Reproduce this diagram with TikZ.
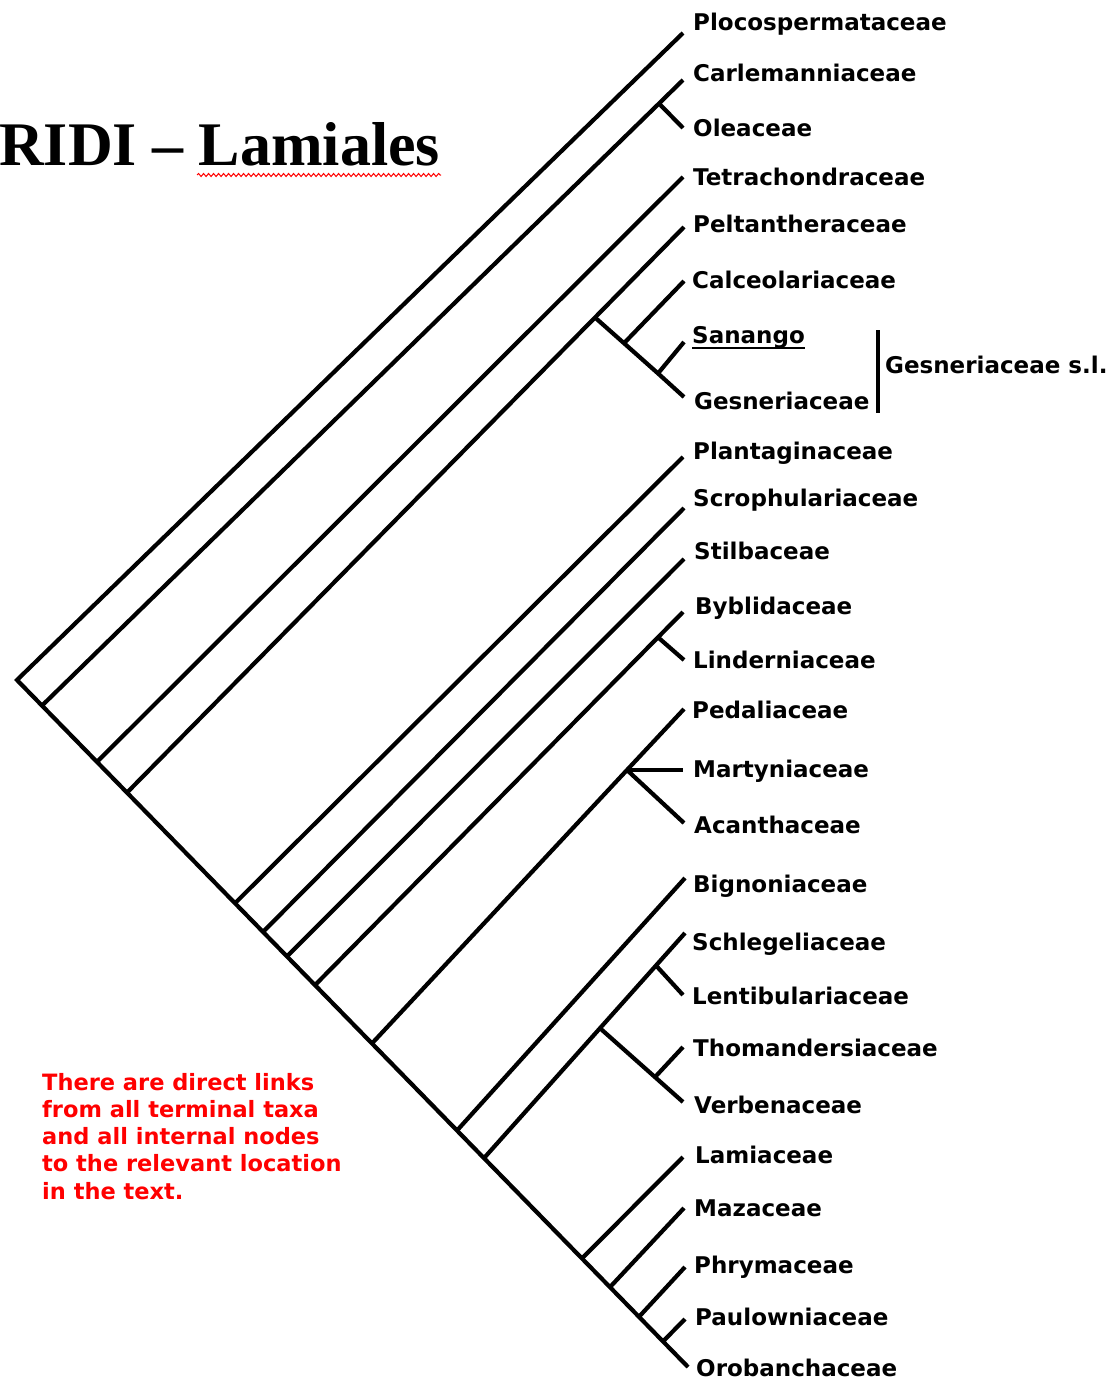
\documentclass[tikz,border=0pt]{standalone}
\usepackage{fontspec}
\newfontfamily\labfont{DejaVu Sans}
\newfontfamily\titlefont{Liberation Serif}
\usetikzlibrary{decorations.pathmorphing}
\begin{document}
\begin{tikzpicture}[x=1pt,y=-1pt,
  br/.style={line width=4.2pt, line cap=butt, line join=miter},
  taxon/.style={anchor=west, inner sep=0pt, font=\labfont\bfseries\fontsize{23}{27}\selectfont, text height=16.8pt, text depth=0pt},
  note/.style={anchor=base west, align=left, inner sep=0pt, text=red, font=\labfont\bfseries\fontsize{22.5}{27.25}\selectfont},
  wavy/.style={red, line width=1pt, decorate, decoration={snake, amplitude=1.5pt, segment length=5pt}}
]
\useasboundingbox (0,0) rectangle (1111,1381);

% spine
\coordinate (root) at (17,680);
\coordinate (end) at (688,1367);
\coordinate (s1) at (42,705.6);
\coordinate (s2) at (97,761.9);
\coordinate (s3) at (127,792.6);
\coordinate (s4) at (235,903.2);
\coordinate (s5) at (263,931.9);
\coordinate (s6) at (287,956.4);
\coordinate (s7) at (315,985.1);
\coordinate (s8) at (372,1043.4);
\coordinate (s9) at (457,1130.5);
\coordinate (s10) at (484,1158.1);
\coordinate (s11) at (582,1258.4);
\coordinate (s12) at (610,1287.1);
\coordinate (s13) at (639,1316.8);
\coordinate (s14) at (663,1341.4);

% tips and inner junctions
\coordinate (t-plo) at (683,33);
\coordinate (t-car) at (683,80);
\coordinate (j-ole) at (659,103.5);
\coordinate (t-ole) at (683,128);
\coordinate (t-tet) at (683,177);
\coordinate (t-pel) at (684,227);
\coordinate (j-cal0) at (595,317.5);
\coordinate (j-cal1) at (624,343.2);
\coordinate (j-cal2) at (658,373.4);
\coordinate (t-cal) at (684,281);
\coordinate (t-san) at (684,342);
\coordinate (t-ges) at (684,397);
\coordinate (t-pla) at (683,457);
\coordinate (t-scr) at (684,508);
\coordinate (t-sti) at (684,559);
\coordinate (t-byb) at (683,612);
\coordinate (j-lin) at (658,637.3);
\coordinate (t-lin) at (684,660);
\coordinate (j-mar) at (627,770);
\coordinate (t-ped) at (684,709);
\coordinate (t-mar) at (683,770);
\coordinate (t-aca) at (684,823);
\coordinate (t-big) at (685,878);
\coordinate (j-ver) at (600,1028.2);
\coordinate (j-len) at (656,965.5);
\coordinate (t-sch) at (685,933);
\coordinate (t-len) at (683,995);
\coordinate (j-tho) at (655,1077.1);
\coordinate (t-tho) at (683,1047);
\coordinate (t-vbn) at (683,1102);
\coordinate (t-lam) at (683,1157);
\coordinate (t-maz) at (684,1208);
\coordinate (t-phr) at (685,1267);
\coordinate (t-pau) at (685,1319);

% branches
\draw[br] (t-plo) -- (root) -- (end);
\draw[br] (s1) -- (j-ole) -- (t-car);
\draw[br] (j-ole) -- (t-ole);
\draw[br] (s2) -- (t-tet);
\draw[br] (s3) -- (j-cal0) -- (t-pel);
\draw[br] (j-cal0) -- (j-cal1) -- (j-cal2) -- (t-ges);
\draw[br] (j-cal1) -- (t-cal);
\draw[br] (j-cal2) -- (t-san);
\draw[br] (s4) -- (t-pla);
\draw[br] (s5) -- (t-scr);
\draw[br] (s6) -- (t-sti);
\draw[br] (s7) -- (j-lin) -- (t-byb);
\draw[br] (j-lin) -- (t-lin);
\draw[br] (s8) -- (j-mar) -- (t-ped);
\draw[br] (j-mar) -- (t-mar);
\draw[br] (j-mar) -- (t-aca);
\draw[br] (s9) -- (t-big);
\draw[br] (s10) -- (j-ver) -- (j-len) -- (t-sch);
\draw[br] (j-len) -- (t-len);
\draw[br] (j-ver) -- (j-tho) -- (t-vbn);
\draw[br] (j-tho) -- (t-tho);
\draw[br] (s11) -- (t-lam);
\draw[br] (s12) -- (t-maz);
\draw[br] (s13) -- (t-phr);
\draw[br] (s14) -- (t-pau);

% labels
\node[taxon] (plo) at (693,22) {Plocospermataceae};
\node[taxon] (car) at (693,73) {Carlemanniaceae};
\node[taxon] (ole) at (693,128) {Oleaceae};
\node[taxon] (tet) at (693,177) {Tetrachondraceae};
\node[taxon] (pel) at (693,224) {Peltantheraceae};
\node[taxon] (cal) at (692,280) {Calceolariaceae};
\node[taxon] (san) at (692,335) {Sanango};
\node[taxon] (ges) at (694,401) {Gesneriaceae};
\node[taxon] (pla) at (693,451) {Plantaginaceae};
\node[taxon] (scr) at (693,498) {Scrophulariaceae};
\node[taxon] (sti) at (694,551) {Stilbaceae};
\node[taxon] (byb) at (695,606) {Byblidaceae};
\node[taxon] (lin) at (693,660) {Linderniaceae};
\node[taxon] (ped) at (692,710) {Pedaliaceae};
\node[taxon] (mar) at (693,769) {Martyniaceae};
\node[taxon] (aca) at (694,825) {Acanthaceae};
\node[taxon] (big) at (693,884) {Bignoniaceae};
\node[taxon] (sch) at (692,942) {Schlegeliaceae};
\node[taxon] (len) at (692,996) {Lentibulariaceae};
\node[taxon] (tho) at (693,1048) {Thomandersiaceae};
\node[taxon] (vbn) at (694,1105) {Verbenaceae};
\node[taxon] (lam) at (695,1155) {Lamiaceae};
\node[taxon] (maz) at (694,1208) {Mazaceae};
\node[taxon] (phr) at (694,1265) {Phrymaceae};
\node[taxon] (pau) at (695,1317) {Paulowniaceae};
\node[taxon] (oro) at (696,1368) {Orobanchaceae};

% Sanango underline
\draw[line width=2pt] ([yshift=-4.5pt]san.south west) -- ([yshift=-4.5pt]san.south east);

% Gesneriaceae s.l. bracket
\coordinate (gb1) at (878,330);
\coordinate (gb2) at (878,413);
\draw[br] (gb1) -- (gb2);
\node[taxon] (gsl) at (885,365) {Gesneriaceae s.l.};

% title
\node[anchor=base west, inner sep=0pt, font=\titlefont\bfseries\fontsize{62}{70}\selectfont] (title) at (-1,165) {RIDI – Lamiales};
\coordinate (w1) at (197,175);
\coordinate (w2) at (441,175);
\draw[wavy] (w1) -- (w2);

% note (anchor is the baseline of the last line)
\node[note] (txt) at (42,1199) {There are direct links\\from all terminal taxa\\and all internal nodes\\to the relevant location\\in the text.};
\end{tikzpicture}
\end{document}
